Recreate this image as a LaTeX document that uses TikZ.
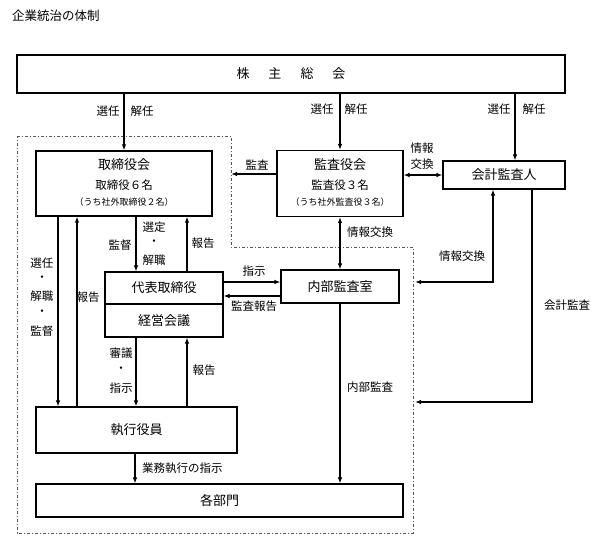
\documentclass[tikz,border=0pt]{standalone}
\usepackage{fontspec}
\setmainfont{Noto Sans CJK JP}
\usetikzlibrary{arrows.meta}
\begin{document}
\begin{tikzpicture}[x=1pt,y=-1pt,
  box/.style={draw,line width=1.1pt,rectangle,inner sep=0pt,align=center,font=\fontsize{13}{15}\selectfont},
  lbl/.style={inner sep=0pt,font=\fontsize{11.5}{13}\selectfont},
  arr/.style={line width=1.1pt,-{Latex[length=6pt,width=4.5pt]}},
  arrb/.style={line width=1.1pt,{Latex[length=6pt,width=4.5pt]}-{Latex[length=6pt,width=4.5pt]}},
  region/.style={draw=black!65,line width=0.8pt,dash pattern=on 3pt off 2pt on 1pt off 2pt}]
\useasboundingbox (0,0) rectangle (602,546);
\fill[white] (0,0) rectangle (602,546);

% title
\node[anchor=west,inner sep=0pt,font=\fontsize{12.5}{14}\selectfont] (title) at (12,16) {企業統治の体制};

% governance region
\draw[region] (17,136) -- (231,136) -- (231,247) -- (413,247) -- (413,533) -- (17,533) -- cycle;

% boxes
\node[box,line width=1.4pt,minimum width=548pt,minimum height=38pt] (soukai) at (291,74)
  {株\hspace{19pt}主\hspace{19pt}総\hspace{19pt}会};
\node[box,line width=1.4pt,minimum width=176pt,minimum height=65pt] (tori) at (124,183.5) {};
\node[font=\fontsize{13}{15}\selectfont,inner sep=0pt] (toriT) at (124,165) {取締役会};
\node[font=\fontsize{11.5}{13}\selectfont,inner sep=0pt] (toriN) at (124,185) {取締役６名};
\node[font=\fontsize{9}{11}\selectfont,inner sep=0pt] (toriS) at (124,202) {（うち社外取締役２名）};

\node[box,minimum width=126pt,minimum height=66pt] (kansa) at (340,183.5) {};
\node[font=\fontsize{13}{15}\selectfont,inner sep=0pt] (kansaT) at (340,165) {監査役会};
\node[font=\fontsize{11.5}{13}\selectfont,inner sep=0pt] (kansaN) at (340,185) {監査役３名};
\node[font=\fontsize{9}{11}\selectfont,inner sep=0pt] (kansaS) at (340,202) {（うち社外監査役３名）};

\node[box,minimum width=122pt,minimum height=28pt] (kaikei) at (504,175) {会計監査人};
\node[box,minimum width=118pt,minimum height=32pt] (daihyo) at (164,288) {代表取締役};
\node[box,minimum width=118pt,minimum height=33pt] (keiei) at (164,320.5) {経営会議};
\node[box,minimum width=118pt,minimum height=33pt] (naibu) at (340,286.5) {内部監査室};
\node[box,minimum width=201pt,minimum height=46pt] (shikko) at (136.5,430) {執行役員};
\node[box,minimum width=367pt,minimum height=33pt] (kakubu) at (219.5,500.5) {各部門};

% helper coordinates
\coordinate (xA) at (58,0);
\coordinate (xB) at (77,0);
\coordinate (xC) at (136,0);
\coordinate (xD) at (187,0);
\coordinate (xE) at (515,0);
\coordinate (xF) at (493,0);
\coordinate (xG) at (532,0);
\coordinate (yI) at (0,282);
\coordinate (yJ) at (0,296);
\coordinate (kansaEnd) at (231,174);
\coordinate (infoEnd) at (415,282);
\coordinate (auditEnd) at (415,402);

% connectors
\draw[arr] (soukai.south -| tori) -- (tori.north);
\draw[arr] (soukai.south -| kansa) -- (kansa.north);
\draw[arr] (soukai.south -| xE) -- (kaikei.north -| xE);
\draw[arrb] (kansa.east |- kaikei.west) -- (kaikei.west);
\draw[arr] (kansa.west |- kansaEnd) -- (kansaEnd);
\draw[arrb] (kansa.south) -- (naibu.north);
\draw[arrb] (kaikei.south -| xF) |- (infoEnd);
\draw[arr] (kaikei.south -| xG) |- (auditEnd);
\draw[arr] (tori.south -| xC) -- (daihyo.north -| xC);
\draw[arr] (daihyo.north -| xD) -- (tori.south -| xD);
\draw[arr] (daihyo.east |- yI) -- (naibu.west |- yI);
\draw[arr] (naibu.west |- yJ) -- (daihyo.east |- yJ);
\draw[arr] (tori.south -| xA) -- (shikko.north -| xA);
\draw[arr] (shikko.north -| xB) -- (tori.south -| xB);
\draw[arr] (keiei.south -| xC) -- (shikko.north -| xC);
\draw[arr] (shikko.north -| xD) -- (keiei.south -| xD);
\draw[arr] (shikko.south -| 135,0) -- (kakubu.north -| 135,0);
\draw[arr] (naibu.south) -- (kakubu.north -| naibu);

% labels
\node[lbl] (l1) at (108,111) {選任};
\node[lbl] (l2) at (142,111) {解任};
\node[lbl] (l3) at (322,109) {選任};
\node[lbl] (l4) at (356,109) {解任};
\node[lbl] (l5) at (499,109) {選任};
\node[lbl] (l6) at (534,109) {解任};
\node[lbl] (l7) at (422,148) {情報};
\node[lbl] (l8) at (422,164) {交換};
\node[lbl] (l9) at (257,165) {監査};
\node[lbl] (l10) at (370,232) {情報交換};
\node[lbl] (l11) at (462,256) {情報交換};
\node[lbl] (l12) at (567,305) {会計監査};
\node[lbl] (l13) at (120,245) {監督};
\node[lbl] (l14) at (154,227) {選定};
\node[lbl] (l15) at (154,243) {・};
\node[lbl] (l16) at (154,260) {解職};
\node[lbl] (l17) at (203,243) {報告};
\node[lbl] (l18) at (42,263) {選任};
\node[lbl] (l19) at (42,279) {・};
\node[lbl] (l20) at (42,296) {解職};
\node[lbl] (l21) at (42,313) {・};
\node[lbl] (l22) at (42,331) {監督};
\node[lbl] (l23) at (88,297) {報告};
\node[lbl] (l24) at (254,271) {指示};
\node[lbl] (l25) at (254,306) {監査報告};
\node[lbl] (l26) at (121,353) {審議};
\node[lbl] (l27) at (121,370) {・};
\node[lbl] (l28) at (121,388) {指示};
\node[lbl] (l29) at (204,370) {報告};
\node[lbl,anchor=west] (l30) at (142,468) {業務執行の指示};
\node[lbl] (l31) at (370,387) {内部監査};
\end{tikzpicture}
\end{document}
